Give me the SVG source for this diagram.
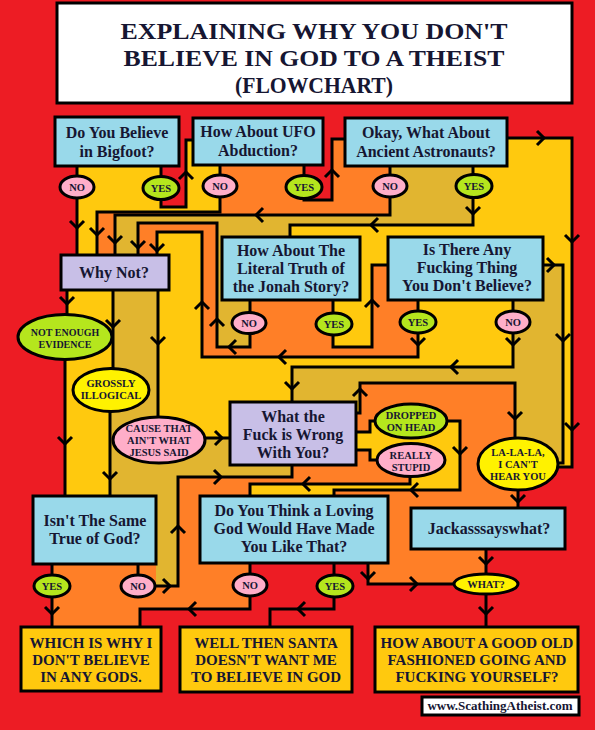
<svg xmlns="http://www.w3.org/2000/svg" xmlns:xlink="http://www.w3.org/1999/xlink" width="595" height="730" viewBox="0 0 595 730">
<defs>
<style>
.bx{stroke:#000;stroke-width:3}
.q{fill:#99D9EA}.w{fill:#C8BFE7}.a{fill:#FFC90E}.pk{fill:#FFAEC9}.gr{fill:#B5E61D}.yl{fill:#FFF200}
.t{font-family:"Liberation Serif","DejaVu Serif",serif;font-weight:bold;fill:#161632;text-anchor:middle}
.f17{font-size:16px}.f15{font-size:15px}.f11{font-size:10.5px}.f10{font-size:10.5px}
.ln{fill:none;stroke:#000;stroke-width:3;stroke-linejoin:miter}
.ry{fill:#FFC90E}.ro{fill:#FF7F27}.rm{fill:#E1B530}
</style>
<path id="ch" d="M-7,-7 L0,0 L7,-7" fill="none" stroke="#000" stroke-width="3"/>
</defs>
<rect width="595" height="730" fill="#ED1C24"/>

<g id="regions">
<polygon class="ry" points="77,166 161,166 161,207 186,207 186,140 193,140 193,165 304,165 304,200 332,200 332,139 345,139 345,166 507,166 507,138 572,138 572,467 558,467 550,480 535,488 518,490 518,508 486,508 486,584 368,584 368,563 250,563 250,610 140,610 140,627 52,627 52,564 33,564 33,496 65,496 65,360 67,315 67,290 61,290 61,255 77,255"/>
<polygon class="ro" points="220,165 304,165 304,200 332,200 332,139 345,139 345,166 390,166 390,215 115,215 115,255 97,255 97,212 220,212"/>
<polygon class="rm" points="390,166 473,166 473,225 290,225 290,237 222,237 222,300 250,300 250,347 217,347 217,223 138,223 138,255 115,255 115,215 390,215"/>
<polygon class="ro" points="138,223 217,223 217,347 250,347 250,300 333,300 333,347 372,347 372,265 388,265 388,300 418,300 418,357 202,357 202,232 157,232 157,255 138,255"/>
<polygon class="rm" points="513,300 543,300 543,265 563,265 563,463 558,463 546,445 518,438 515,438 515,383 360,383 360,402 292,402 292,367 513,367"/>
<polygon class="ro" points="360,383 515,383 515,438 492,445 478,464 490,483 518,490 518,530 486,530 486,584 368,584 368,563 388,563 388,496 334,496 334,490 460,490 460,421 447,421 375,421 370,421 370,432 356,432 356,413 360,413"/>
<polygon class="ro" points="178,477 292,477 292,465 356,465 356,450 370,450 370,460 378,461 388,472 410,477 410,484 250,484 250,496 200,496 200,563 250,563 250,610 140,610 140,627 52,627 52,564 156,564 156,586 178,586"/>
<polygon class="rm" points="113,290 158,290 158,417 180,422 200,430 205,438 230,438 230,465 292,465 292,477 178,477 178,586 156,586 156,496 110,496 110,412 113,369"/>
</g>

<g id="connectors">
<path class="ln" d="M77,166 V255"/>
<path class="ln" d="M161,166 V207 H186 V140 H193"/>
<path class="ln" d="M220,165 V212 H97 V255"/>
<path class="ln" d="M304,165 V200 H332 V139 H345"/>
<path class="ln" d="M390,166 V215 H115 V255"/>
<path class="ln" d="M473,166 V225 H290 V237"/>
<path class="ln" d="M507,138 H572 V467 H558"/>
<path class="ln" d="M250,300 V347 H217 V223 H138 V255"/>
<path class="ln" d="M333,300 V347 H372 V265 H388"/>
<path class="ln" d="M418,300 V357 H202 V232 H157 V255"/>
<path class="ln" d="M513,300 V367 H292 V402"/>
<path class="ln" d="M543,265 H563 V463 H556"/>
<path class="ln" d="M67,290 V315 M65,360 V496"/>
<path class="ln" d="M113,290 V369 M110,412 V496"/>
<path class="ln" d="M158,290 V417 M205,438 H230"/>
<path class="ln" d="M52,564 V627"/>
<path class="ln" d="M138,564 V586 H178 V477 H292 V465"/>
<path class="ln" d="M356,413 H360 V383 H515 V438"/>
<path class="ln" d="M356,432 H370 V421 H376"/>
<path class="ln" d="M356,450 H370 V460 H378"/>
<path class="ln" d="M446,421 H460 V490 H334 V496"/>
<path class="ln" d="M410,477 V484 H250 V496"/>
<path class="ln" d="M518,490 V508"/>
<path class="ln" d="M486,549 V627"/>
<path class="ln" d="M368,563 V584 H454"/>
<path class="ln" d="M250,563 V609 H140 V627"/>
<path class="ln" d="M334,563 V609 H270 V627"/>
<g id="arrows">
<use xlink:href="#ch" transform="translate(77,228)"/>
<use xlink:href="#ch" transform="translate(186,172) rotate(180)"/>
<use xlink:href="#ch" transform="translate(97,235)"/>
<use xlink:href="#ch" transform="translate(332,170) rotate(180)"/>
<use xlink:href="#ch" transform="translate(256,215) rotate(90)"/>
<use xlink:href="#ch" transform="translate(115,243)"/>
<use xlink:href="#ch" transform="translate(473,214)"/>
<use xlink:href="#ch" transform="translate(371,225) rotate(90)"/>
<use xlink:href="#ch" transform="translate(544,138) rotate(-90)"/>
<use xlink:href="#ch" transform="translate(572,242)"/>
<use xlink:href="#ch" transform="translate(572,430)"/>
<use xlink:href="#ch" transform="translate(229,347) rotate(90)"/>
<use xlink:href="#ch" transform="translate(217,319) rotate(180)"/>
<use xlink:href="#ch" transform="translate(138,248)"/>
<use xlink:href="#ch" transform="translate(372,300) rotate(180)"/>
<use xlink:href="#ch" transform="translate(418,345)"/>
<use xlink:href="#ch" transform="translate(279,357) rotate(90)"/>
<use xlink:href="#ch" transform="translate(202,302) rotate(180)"/>
<use xlink:href="#ch" transform="translate(157,251)"/>
<use xlink:href="#ch" transform="translate(513,345)"/>
<use xlink:href="#ch" transform="translate(451,367) rotate(90)"/>
<use xlink:href="#ch" transform="translate(292,389)"/>
<use xlink:href="#ch" transform="translate(554,265) rotate(-90)"/>
<use xlink:href="#ch" transform="translate(563,341)"/>
<use xlink:href="#ch" transform="translate(67,304)"/>
<use xlink:href="#ch" transform="translate(65,444)"/>
<use xlink:href="#ch" transform="translate(113,327)"/>
<use xlink:href="#ch" transform="translate(110,479)"/>
<use xlink:href="#ch" transform="translate(158,344)"/>
<use xlink:href="#ch" transform="translate(222,438) rotate(-90)"/>
<use xlink:href="#ch" transform="translate(52,614)"/>
<use xlink:href="#ch" transform="translate(170,586) rotate(-90)"/>
<use xlink:href="#ch" transform="translate(178,526) rotate(180)"/>
<use xlink:href="#ch" transform="translate(221,477) rotate(-90)"/>
<use xlink:href="#ch" transform="translate(360,389) rotate(180)"/>
<use xlink:href="#ch" transform="translate(515,419)"/>
<use xlink:href="#ch" transform="translate(460,454)"/>
<use xlink:href="#ch" transform="translate(411,490) rotate(90)"/>
<use xlink:href="#ch" transform="translate(303,484) rotate(90)"/>
<use xlink:href="#ch" transform="translate(518,502)"/>
<use xlink:href="#ch" transform="translate(486,564)"/>
<use xlink:href="#ch" transform="translate(486,614)"/>
<use xlink:href="#ch" transform="translate(368,579)"/>
<use xlink:href="#ch" transform="translate(417,584) rotate(-90)"/>
<use xlink:href="#ch" transform="translate(189,609) rotate(90)"/>
<use xlink:href="#ch" transform="translate(298,609) rotate(90)"/>
</g>
</g>

<g id="title">
<rect x="57" y="3" width="515" height="100" fill="#fff" class="bx"/>
<text class="t" x="314" y="39" font-size="24" textLength="387" lengthAdjust="spacingAndGlyphs">EXPLAINING WHY YOU DON'T</text>
<text class="t" x="314" y="66" font-size="24" textLength="381" lengthAdjust="spacingAndGlyphs">BELIEVE IN GOD TO A THEIST</text>
<text class="t" x="314" y="93" font-size="24" textLength="158" lengthAdjust="spacingAndGlyphs">(FLOWCHART)</text>
</g>

<g id="n-bigfoot">
<rect x="55" y="117" width="124" height="49" class="bx q"/>
<text class="t f17" x="117" y="138">Do You Believe</text>
<text class="t f17" x="117" y="157">in Bigfoot?</text>
</g>
<g id="n-ufo">
<rect x="193" y="118" width="130" height="47" class="bx q"/>
<text class="t f17" x="258" y="137">How About UFO</text>
<text class="t f17" x="258" y="156">Abduction?</text>
</g>
<g id="n-ancient">
<rect x="345" y="118" width="162" height="48" class="bx q"/>
<text class="t f17" x="426" y="138">Okay, What About</text>
<text class="t f17" x="426" y="157">Ancient Astronauts?</text>
</g>
<g id="e-bigfoot-no"><ellipse cx="77" cy="187" rx="17" ry="11" class="bx pk"/><text class="t f10" x="77" y="191">NO</text></g>
<g id="e-bigfoot-yes"><ellipse cx="161" cy="188" rx="18" ry="11.5" class="bx gr"/><text class="t f10" x="161" y="192">YES</text></g>
<g id="e-ufo-no"><ellipse cx="220" cy="186" rx="17" ry="11" class="bx pk"/><text class="t f10" x="220" y="190">NO</text></g>
<g id="e-ufo-yes"><ellipse cx="304" cy="187" rx="18" ry="11.5" class="bx gr"/><text class="t f10" x="304" y="191">YES</text></g>
<g id="e-anc-no"><ellipse cx="390" cy="186" rx="17" ry="11" class="bx pk"/><text class="t f10" x="390" y="190">NO</text></g>
<g id="e-anc-yes"><ellipse cx="474" cy="186" rx="18" ry="11.5" class="bx gr"/><text class="t f10" x="474" y="190">YES</text></g>

<g id="n-whynot">
<rect x="61" y="255" width="108" height="35" class="bx w"/>
<text class="t f17" x="114" y="278">Why Not?</text>
</g>
<g id="n-jonah">
<rect x="222" y="237" width="138" height="63" class="bx q"/>
<text class="t f17" x="291" y="256">How About The</text>
<text class="t f17" x="291" y="274">Literal Truth of</text>
<text class="t f17" x="291" y="292">the Jonah Story?</text>
</g>
<g id="n-isthere">
<rect x="388" y="237" width="155" height="63" class="bx q"/>
<text class="t f17" x="467" y="255">Is There Any</text>
<text class="t f17" x="467" y="273">Fucking Thing</text>
<text class="t f17" x="467" y="291">You Don't Believe?</text>
</g>
<g id="e-jonah-no"><ellipse cx="249" cy="323" rx="17" ry="10.5" class="bx pk"/><text class="t f10" x="249" y="327">NO</text></g>
<g id="e-jonah-yes"><ellipse cx="334" cy="324" rx="18" ry="11" class="bx gr"/><text class="t f10" x="334" y="328">YES</text></g>
<g id="e-is-yes"><ellipse cx="418" cy="322" rx="18" ry="11" class="bx gr"/><text class="t f10" x="418" y="326">YES</text></g>
<g id="e-is-no"><ellipse cx="513" cy="322" rx="17" ry="11" class="bx pk"/><text class="t f10" x="513" y="326">NO</text></g>

<g id="e-notenough"><ellipse cx="65" cy="337" rx="47" ry="22.5" class="bx gr"/>
<text class="t" font-size="10" x="65" y="336">NOT ENOUGH</text><text class="t" font-size="10" x="65" y="348">EVIDENCE</text></g>
<g id="e-grossly"><ellipse cx="111" cy="390" rx="38" ry="21.5" class="bx yl"/>
<text class="t f10" x="111" y="387">GROSSLY</text><text class="t f10" x="111" y="399">ILLOGICAL</text></g>
<g id="e-cause"><ellipse cx="159" cy="440" rx="46" ry="23" class="bx pk"/>
<text class="t f11" x="159" y="432">CAUSE THAT</text><text class="t f11" x="159" y="444">AIN'T WHAT</text><text class="t f11" x="159" y="456">JESUS SAID</text></g>

<g id="n-wtf">
<rect x="230" y="402" width="126" height="63" class="bx w"/>
<text class="t f17" x="293" y="422">What the</text>
<text class="t f17" x="293" y="440">Fuck is Wrong</text>
<text class="t f17" x="293" y="458">With You?</text>
</g>
<g id="e-dropped"><ellipse cx="411" cy="421" rx="36" ry="17" class="bx gr"/>
<text class="t f11" x="411" y="419">DROPPED</text><text class="t f11" x="411" y="431">ON HEAD</text></g>
<g id="e-really"><ellipse cx="411" cy="460" rx="34" ry="16.5" class="bx pk"/>
<text class="t f10" x="411" y="459">REALLY</text><text class="t f10" x="411" y="471">STUPID</text></g>
<g id="e-lala"><ellipse cx="518" cy="464" rx="40" ry="26" class="bx yl"/>
<text class="t f11" x="518" y="456">LA-LA-LA,</text><text class="t f11" x="518" y="468">I CAN'T</text><text class="t f11" x="518" y="480">HEAR YOU</text></g>

<g id="n-isnt">
<rect x="33" y="496" width="123" height="68" class="bx q"/>
<text class="t f17" x="95" y="526">Isn't The Same</text>
<text class="t f17" x="95" y="544">True of God?</text>
</g>
<g id="n-loving">
<rect x="200" y="496" width="188" height="67" class="bx q"/>
<text class="t f17" x="294" y="516">Do You Think a Loving</text>
<text class="t f17" x="294" y="534">God Would Have Made</text>
<text class="t f17" x="294" y="552">You Like That?</text>
</g>
<g id="n-jackass">
<rect x="411" y="508" width="154" height="41" class="bx q"/>
<text class="t f17" x="489" y="534">Jackasssayswhat?</text>
</g>
<g id="e-isnt-yes"><ellipse cx="52" cy="586" rx="18" ry="11" class="bx gr"/><text class="t f10" x="52" y="590">YES</text></g>
<g id="e-isnt-no"><ellipse cx="138" cy="586" rx="17" ry="11" class="bx pk"/><text class="t f10" x="138" y="590">NO</text></g>
<g id="e-lov-no"><ellipse cx="250" cy="585" rx="17" ry="11" class="bx pk"/><text class="t f10" x="250" y="589">NO</text></g>
<g id="e-lov-yes"><ellipse cx="335" cy="586" rx="18" ry="11" class="bx gr"/><text class="t f10" x="335" y="590">YES</text></g>
<g id="e-what"><ellipse cx="486" cy="584" rx="32" ry="10" class="bx yl"/><text class="t f11" x="486" y="588">WHAT?</text></g>

<g id="n-which">
<rect x="21" y="627" width="140" height="64" class="bx a"/>
<text class="t f15" x="91" y="648">WHICH IS WHY I</text>
<text class="t f15" x="91" y="665">DON'T BELIEVE</text>
<text class="t f15" x="91" y="682">IN ANY GODS.</text>
</g>
<g id="n-santa">
<rect x="180" y="627" width="172" height="65" class="bx a"/>
<text class="t f15" x="266" y="648">WELL THEN SANTA</text>
<text class="t f15" x="266" y="665">DOESN'T WANT ME</text>
<text class="t f15" x="266" y="682">TO BELIEVE IN GOD</text>
</g>
<g id="n-how">
<rect x="375" y="627" width="203" height="65" class="bx a"/>
<text class="t f15" x="477" y="648">HOW ABOUT A GOOD OLD</text>
<text class="t f15" x="477" y="665">FASHIONED GOING AND</text>
<text class="t f15" x="477" y="682">FUCKING YOURSELF?</text>
</g>
<g id="credit">
<rect x="422" y="697" width="157" height="18" fill="#fff" class="bx"/>
<text class="t" font-size="13" x="500" y="710">www.ScathingAtheist.com</text>
</g>
</svg>
